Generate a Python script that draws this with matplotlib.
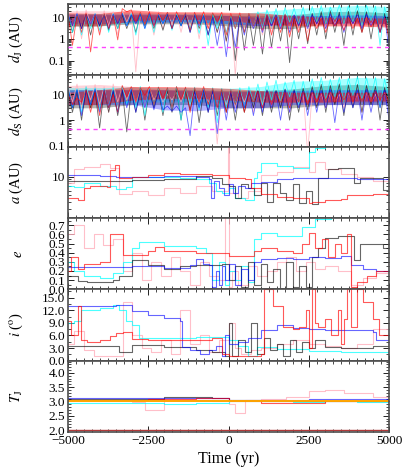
import numpy as np
import matplotlib.pyplot as plt
from matplotlib.ticker import MultipleLocator, FixedLocator, FormatStrFormatter, LogLocator, NullFormatter

plt.rcParams['font.family'] = ['Liberation Serif', 'DejaVu Serif']
plt.rcParams['mathtext.fontset'] = 'stix'

# ---- distances to Jupiter (AU), sampled evenly over -5000..5000 yr ----
dj_red = [14, 0.5, 12, 2, 16, 0.25, 13, 1.5, 15, 3, 12, 0.9,
          25, 18, 22, 6,
          17, 5, 18, 4, 16, 7, 17, 3, 18, 6, 16, 2.5, 17, 5, 18, 3, 16, 6, 17, 1.5,
          15, 3, 16, 2, 15, 4, 14, 2.5,
          12, 1.5, 10, 2, 12, 1.2, 9, 2, 11, 0.8,
          10, 3, 9, 2, 10, 4, 8, 2.5, 10, 3, 9, 2, 10, 3.5, 8, 2, 9, 1]
dj_pink = [18, 3, 20, 1, 22, 5, 15, 2, 20, 4, 18, 1.5,
           20, 6, 18, 0.03,
           16, 4, 14, 1.5, 18, 3, 15, 5, 17, 2, 16, 4, 15, 1, 16, 3, 14, 2, 15, 0.7,
           14, 0.02, 15, 2, 12, 3, 14, 1.5,
           13, 2, 12, 3, 14, 1.5, 12, 2.5, 13, 2,
           12, 4, 11, 3, 13, 5, 12, 2.5, 11, 4, 12, 3, 10, 4.5, 12, 3, 10, 2]
dj_cyan = [15, 2, 14, 1.5, 13, 3, 15, 2.5, 14, 2, 15, 3,
           16, 4, 15, 1.5, 16, 3, 15, 2, 14, 5, 16, 2.5, 15, 4, 16, 3, 15, 1.8, 14, 0.5, 15, 3, 14, 2,
           12, 3, 13, 2, 14, 4, 18, 3,
           22, 5, 25, 4, 28, 6, 26, 5, 30, 4,
           32, 6, 35, 5, 30, 8, 38, 5, 34, 6, 40, 4, 36, 7, 33, 0.5, 30, 3]
dj_black = [13, 2, 12, 3, 14, 1.5, 12, 4, 13, 2.5, 12, 3,
            13, 3, 12, 2, 14, 4, 13, 3, 12, 2.5, 14, 3, 13, 4, 12, 2, 13, 3, 12, 1.5, 13, 2, 12, 0.8,
            11, 0.1, 12, 0.3, 10, 0.5, 12, 0.2,
            13, 0.4, 12, 0.8, 14, 0.08, 12, 1, 13, 0.6,
            15, 1.5, 18, 1, 20, 2, 17, 0.5, 19, 1.5, 20, 2, 18, 1, 17, 2, 15, 1]
dj_blue = [14, 4, 15, 3, 13, 5, 14, 4, 12, 3, 14, 5,
           15, 4, 13, 5, 14, 3, 15, 4, 13, 5, 14, 3, 12, 4, 14, 2, 13, 4, 12, 1.5, 10, 0.5, 8, 0.15,
           9, 0.4, 10, 1.5, 12, 3, 11, 2,
           12, 4, 13, 3, 12, 2, 13, 4, 12, 3,
           13, 5, 12, 3, 14, 4, 13, 2, 12, 5, 13, 3, 14, 4, 12, 2, 11, 0.3]

# envelope of the dense oscillation, every 1000 yr from -5000 to 5000
dj_red_top = [16, 15, 22, 18, 18, 17, 16, 12, 10, 10, 9]
dj_red_bot = [4, 4, 7, 8, 8, 7, 5, 4, 4, 4, 3.5]
dj_pink_top = [20, 20, 18, 16, 16, 15, 14, 13, 12, 12, 11]
dj_pink_bot = [5, 5, 6, 6, 5, 5, 4, 5, 5, 5, 4]
dj_cyan_top = [15, 15, 16, 15, 15, 14, 18, 25, 30, 35, 32]
dj_cyan_bot = [4, 4, 6, 6, 6, 5, 5, 8, 8, 8, 7]
dj_black_top = [13, 13, 13, 13, 13, 12, 12, 13, 18, 19, 16]
dj_black_bot = [4, 4, 5, 5, 5, 4, 3, 3, 5, 6, 5]
dj_blue_top = [14, 14, 14, 14, 13, 12, 10, 12, 12, 13, 12]
dj_blue_bot = [5, 5, 6, 6, 6, 5, 4, 5, 5, 5, 5]

# ---- distances to Saturn (AU) ----
ds_red = [10, 4, 7, 5, 15, 2, 12, 1.5, 14, 3, 10, 2,
          22, 8, 20, 5, 18, 9, 20, 4, 19, 7, 18, 3, 20, 6, 19, 2, 18, 5, 20, 4, 17, 3, 16, 2,
          15, 4, 14, 2, 12, 5, 13, 3,
          12, 4, 11, 5, 12, 3, 11, 5, 12, 4,
          12, 5, 11, 6, 12, 5, 13, 6, 12, 5, 11, 6, 12, 5, 13, 6, 12, 5]
ds_pink = [22, 5, 25, 3, 20, 6, 24, 4, 20, 2, 25, 5,
           20, 6, 18, 5, 15, 3, 18, 6, 12, 5, 10, 6, 12, 5, 15, 4, 10, 5, 12, 5, 10, 0.12, 12, 4,
           14, 3, 12, 5, 13, 2, 12, 4,
           13, 3, 12, 5, 14, 2, 12, 4, 13, 0.05,
           12, 4, 11, 3, 12, 5, 10, 3, 12, 4, 11, 2, 12, 5, 10, 3, 12, 4]
ds_cyan = [18, 3, 16, 2, 20, 4, 18, 2.5, 17, 3, 19, 2,
           20, 4, 18, 3, 20, 1.5, 17, 4, 19, 2, 18, 3, 20, 1, 18, 4, 19, 2.5, 17, 3, 18, 0.8, 17, 3,
           16, 4, 18, 3, 20, 5, 25, 4,
           30, 6, 35, 5, 30, 8, 35, 4, 32, 6,
           40, 7, 45, 6, 38, 8, 45, 5, 42, 9, 48, 6, 44, 8, 45, 3, 40, 6]
ds_black = [15, 2, 14, 1, 16, 3, 13, 0.5, 15, 2, 14, 1.5,
            15, 0.35, 14, 2, 16, 1, 15, 3, 14, 1.5, 15, 2, 16, 1, 14, 2.5, 15, 0.8, 14, 2, 15, 1.5, 14, 2,
            13, 1, 14, 2, 13, 3, 14, 1.5,
            15, 2, 14, 3, 16, 1, 15, 2, 17, 2.5,
            20, 3, 24, 2, 22, 4, 25, 1.5, 23, 3, 24, 2, 22, 4, 20, 1, 18, 3]
ds_blue = [16, 3, 15, 1.5, 14, 4, 16, 2, 15, 3, 14, 2,
           15, 3, 16, 2, 14, 3, 15, 2.5, 12, 2.5, 3.5, 2.2, 3.5, 2, 3, 0.25, 13, 3, 15, 2, 14, 0.3, 12, 1,
           13, 2, 12, 3, 14, 1.5, 13, 2,
           14, 3, 13, 1, 15, 2, 14, 3, 13, 1.5,
           15, 2, 14, 3, 16, 0.8, 15, 2, 14, 3, 15, 1, 16, 2, 14, 3, 15, 1]

ds_red_top = [12, 15, 20, 20, 19, 17, 14, 12, 12, 12, 12]
ds_red_bot = [4, 4, 6, 7, 7, 6, 5, 5, 5, 5.5, 5.5]
ds_pink_top = [22, 24, 20, 15, 12, 12, 13, 13, 12, 12, 12]
ds_pink_bot = [6, 6, 6, 6, 5, 5, 5, 5, 5, 5, 5]
ds_cyan_top = [18, 18, 19, 18, 18, 17, 20, 32, 35, 45, 42]
ds_cyan_bot = [4, 4, 5, 5, 5, 5, 5, 8, 9, 9, 8]
ds_black_top = [15, 15, 15, 15, 15, 14, 14, 16, 22, 24, 20]
ds_black_bot = [3, 3, 4, 4, 4, 3, 3, 3, 4, 4, 4]
ds_blue_top = [15, 15, 15, 15, 14, 13, 13, 14, 15, 15, 15]
ds_blue_bot = [4, 4, 4, 2.5, 2.3, 3, 3, 4, 4, 4, 4]

hill_j = 0.40
hill_s = 0.44

# ---- semimajor axis (AU), step series ----
a_blue_t = [-5000, -4500, -4000, -3500, -3000, -2500, -2000, -1500, -1000, -600, -550, -450, -300, -150, 0, 150, 300, 500, 700, 1000, 1500, 2000, 3000, 4000, 5000]
a_blue = [10.5, 10.4, 10.2, 10.0, 9.8, 10.0, 10.2, 10.1, 9.7, 9.0, 4.5, 8.5, 6.5, 5.0, 7.5, 5.5, 7.0, 6.5, 8.0, 8.2, 9.0, 9.6, 9.4, 9.3, 9.3]
a_black_t = [-5000, -3000, -2000, -1000, -500, -200, 0, 200, 400, 600, 800, 1000, 1200, 1400, 1600, 1800, 2000, 2200, 2400, 2600, 2800, 3100, 3400, 3900, 4100, 4800, 5000]
a_black = [8.6, 8.8, 9.2, 10.2, 9.5, 7.5, 7.0, 4.5, 7.5, 6.5, 5.0, 7.8, 4.0, 8.0, 5.5, 4.2, 7.5, 3.8, 6.0, 3.6, 9.5, 13.0, 13.8, 8.0, 9.5, 6.2, 6.2]
a_cyan_t = [-5000, -4800, -4500, -4000, -3500, -3200, -3000, -2500, -1500, -1000, -600, -400, -200, 0, 200, 500, 800, 900, 1000, 1500, 2000, 2500, 2700, 3000, 3200, 5000]
a_cyan = [7.2, 6.8, 8.0, 7.0, 6.4, 6.8, 10.0, 9.8, 9.5, 9.0, 8.0, 6.0, 5.5, 6.5, 4.5, 4.2, 9.5, 12.0, 16.5, 14.5, 13.8, 25.0, 28.0, 32.0, 40.0, 40.0]
a_red_t = [-5000, -4700, -4500, -4300, -3800, -3700, -3550, -3400, -3000, -2500, -2000, -1500, -1000, -500, 0, 500, 700, 1000, 1500, 2000, 2500, 2600, 3000, 3500, 3700, 4000, 4500, 5000]
a_red = [4.5, 4.2, 6.5, 7.0, 6.8, 12.5, 15.0, 9.5, 9.8, 10.5, 11.5, 10.8, 11.0, 10.5, 9.5, 9.0, 6.5, 5.2, 4.8, 4.5, 3.8, 4.0, 4.2, 4.4, 5.0, 5.0, 5.2, 5.2]
a_pink_t = [-5000, -4800, -4500, -4000, -3700, -3400, -3000, -2500, -2000, -1500, -1000, -500, -20, 20, 300, 600, 1000, 1500, 2000, 2500, 2700, 3000, 3500, 4000, 4500, 5000]
a_pink = [8.0, 13.0, 14.0, 16.0, 13.5, 5.2, 6.0, 5.0, 6.5, 5.5, 7.0, 6.0, 40.0, 5.5, 4.5, 6.0, 10.5, 12.0, 14.0, 12.0, 17.0, 13.0, 11.0, 10.0, 8.5, 8.5]

# ---- eccentricity ----
e_blue_t = [-5000, -4000, -3000, -2000, -1200, -1000, -800, -600, -500, -400, -300, -200, -100, 0, 200, 400, 600, 800, 1000, 1500, 2000, 2500, 3000, 3500, 3800, 4200, 4600, 5000]
e_blue = [0.24, 0.24, 0.25, 0.23, 0.26, 0.33, 0.28, 0.26, 0.02, 0.2, 0.05, 0.25, 0.1, 0.28, 0.05, 0.22, 0.1, 0.3, 0.33, 0.34, 0.33, 0.35, 0.34, 0.36, 0.26, 0.22, 0.2, 0.19]
e_black_t = [-5000, -4700, -4400, -4000, -3600, -3400, -3000, -2500, -2000, -1500, -1000, -500, -200, 0, 200, 400, 600, 800, 1000, 1200, 1400, 1600, 1800, 2000, 2200, 2400, 2600, 2800, 3000, 3400, 3900, 4100, 4800, 5000]
e_black = [0.15, 0.09, 0.08, 0.08, 0.1, 0.14, 0.32, 0.26, 0.22, 0.25, 0.26, 0.27, 0.28, 0.1, 0.25, 0.02, 0.3, 0.05, 0.28, 0.08, 0.22, 0.0, 0.3, 0.03, 0.25, 0.02, 0.35, 0.45, 0.56, 0.58, 0.32, 0.5, 0.45, 0.45]
e_cyan_t = [-5000, -4800, -4500, -4000, -3600, -3300, -3000, -2800, -2000, -1000, -700, -500, -300, -100, 0, 200, 400, 600, 800, 1000, 1500, 2300, 2700, 3200]
e_cyan = [0.3, 0.2, 0.15, 0.12, 0.18, 0.3, 0.45, 0.52, 0.47, 0.45, 0.4, 0.1, 0.3, 0.05, 0.2, 0.1, 0.25, 0.08, 0.55, 0.62, 0.58, 0.68, 0.77, 0.85]
e_red_t = [-5000, -4900, -4700, -4500, -4000, -3700, -3300, -2800, -2500, -2300, -2000, -1000, 0, 500, 800, 1000, 1500, 2000, 2300, 2500, 2700, 2900, 3100, 3300, 3500, 3700, 3800, 4000, 4300, 4600, 5000]
e_red = [0.2, 0.35, 0.22, 0.28, 0.3, 0.6, 0.38, 0.38, 0.42, 0.46, 0.42, 0.4, 0.36, 0.36, 0.42, 0.45, 0.42, 0.4, 0.5, 0.62, 0.45, 0.55, 0.35, 0.5, 0.4, 0.6, 0.03, 0.08, 0.15, 0.2, 0.3]
e_pink_t = [-5000, -4800, -4500, -4200, -3900, -3600, -3300, -3000, -2700, -2400, -2100, -1800, -1500, -1200, -900, -600, -300, -100, 0, 100, 300, 600, 900, 1200, 1500, 1800, 2100, 2400, 2700, 3000, 3400, 3800, 4200, 4600, 5000]
e_pink = [0.6, 0.7, 0.45, 0.6, 0.48, 0.55, 0.2, 0.4, 0.1, 0.3, 0.15, 0.35, 0.2, 0.05, 0.3, 0.15, 0.1, 0.85, 0.02, 0.2, 0.05, 0.25, 0.15, 0.2, 0.3, 0.35, 0.2, 0.3, 0.22, 0.25, 0.2, 0.05, 0.12, 0.18, 0.22]

# ---- inclination (deg) ----
i_blue_t = [-5000, -4500, -3500, -3000, -2500, -2000, -1500, -1450, -1200, -900, -600, -400, -200, -100, 0, 300, 600, 1000, 1500, 2000, 2500, 3000, 3500, 4000, 4500, 4600, 5000]
i_blue = [13.0, 12.9, 13.3, 11.8, 10.8, 10.2, 9.5, 3.2, 2.5, 1.5, 2.5, 3.5, 1.0, 6.0, 4.0, 4.5, 5.5, 7.2, 8.5, 7.8, 7.5, 7.4, 7.2, 7.3, 6.8, 5.0, 6.5]
i_cyan_t = [-5000, -4800, -4600, -4000, -3600, -3400, -3200, -3000, -2800, -1000, -500, 0, 300, 600, 800, 900, 1500, 2500, 3500, 5000]
i_cyan = [9.0, 9.5, 12.0, 12.6, 13.2, 12.0, 9.5, 8.5, 5.5, 5.6, 5.6, 5.0, 3.5, 1.2, 1.0, 3.2, 2.8, 2.4, 2.0, 1.7]
i_red_t = [-5000, -4900, -4700, -4600, -4400, -4000, -3700, -3500, -3300, -3000, -2500, -1500, -1000, -500, -200, 0, 500, 1000, 1100, 1400, 1700, 2000, 2200, 2400, 2500, 2600, 2700, 2800, 3000, 3200, 3400, 3500, 3600, 3700, 3800, 4000, 4200, 4500, 4700, 5000]
i_red = [9.5, 6.0, 13.0, 5.0, 4.5, 5.0, 5.8, 6.5, 6.8, 5.2, 5.0, 4.8, 5.0, 5.5, 1.5, 1.0, 1.2, 1.5, 17.0, 13.0, 8.0, 7.5, 8.0, 12.0, 3.0, 17.0, 9.0, 8.0, 10.0, 6.0, 12.0, 4.0, 10.0, 17.0, 8.0, 17.0, 14.0, 10.0, 6.0, 7.0]
i_black_t = [-5000, -3500, -3400, -3000, -2000, -1000, -500, -100, 0, 100, 300, 500, 700, 900, 1100, 1300, 1500, 1700, 1900, 2100, 2300, 2500, 2700, 3000, 3500, 4000, 4500, 5000]
i_black = [3.5, 3.5, 2.0, 3.8, 3.2, 2.5, 2.0, 1.2, 9.0, 1.0, 5.0, 2.0, 9.0, 1.5, 5.5, 2.5, 4.0, 1.0, 5.0, 2.0, 4.5, 3.0, 5.0, 3.2, 3.0, 3.0, 3.5, 4.5]
i_pink_t = [-5000, -4800, -4500, -4200, -3800, -3500, -3300, -3000, -2700, -2400, -2100, -1800, -1500, -1200, -900, -600, -300, 0, 200, 400, 700, 1000, 1500, 2000, 2500, 3000, 3500, 4000, 4500, 5000]
i_pink = [4.0, 7.0, 2.5, 1.0, 1.0, 1.2, 14.0, 6.0, 3.0, 2.0, 5.0, 1.5, 12.0, 4.0, 6.0, 2.0, 5.0, 9.0, 3.0, 1.5, 2.5, 3.0, 4.0, 5.0, 4.0, 3.5, 3.0, 4.0, 7.5, 9.0]

# ---- Tisserand parameter ----
tj_blue_t = [-5000, -3000, -1000, 0, 1000, 2500, 4000, 5000]
tj_blue = [3.12, 3.11, 3.12, 3.05, 3.06, 3.07, 3.10, 3.13]
tj_black_t = [-5000, -2000, -1000, -500, 0, 1000, 2500, 4000, 5000]
tj_black = [3.10, 3.15, 3.17, 3.12, 3.05, 3.02, 3.03, 3.00, 2.98]
tj_red_t = [-5000, -2500, -1000, 0, 1000, 2000, 2500, 3000, 4000, 5000]
tj_red = [3.05, 3.10, 3.12, 3.02, 2.95, 2.93, 2.94, 3.00, 3.02, 3.01]
tj_cyan_t = [-5000, -3000, -2000, -1000, 0, 1000, 2000, 3000, 4000, 5000]
tj_cyan = [2.95, 2.93, 2.92, 2.95, 3.02, 3.00, 2.99, 3.00, 2.98, 2.97]
tj_pink_t = [-5000, -3000, -2600, -2000, -500, 0, 200, 500, 1000, 1800, 2500, 3000, 3600, 4500, 5000]
tj_pink = [3.00, 2.98, 2.70, 3.05, 3.02, 2.90, 2.60, 3.05, 3.08, 3.15, 3.35, 3.40, 3.30, 3.15, 3.10]
tj_jfc = 3.0
tj_low = 2.0

cols = {'pink': '#ffb0bc', 'black': 'black', 'cyan': 'cyan', 'blue': 'blue', 'red': 'red'}
alphas = {'pink': 0.8, 'black': 0.6, 'cyan': 0.7, 'blue': 0.6, 'red': 0.65}
fill_alphas = {'pink': 0.55, 'black': 0.3, 'cyan': 0.35, 'blue': 0.3, 'red': 0.45}

fig, axes = plt.subplots(6, 1, sharex=True, figsize=(4.07, 4.75), dpi=100)
fig.subplots_adjust(left=0.167, right=0.956, top=0.992, bottom=0.0905, hspace=0)
ax_dj, ax_ds, ax_a, ax_e, ax_i, ax_tj = axes


def dense(ax, series):
    for name, vals, top, bot in series:
        tb = np.linspace(-5000, 5000, len(top))
        ax.fill_between(tb, bot, top, color=cols[name], alpha=fill_alphas[name], lw=0)
        t = np.linspace(-5000, 5000, len(vals))
        ax.plot(t, vals, color=cols[name], alpha=alphas[name], lw=0.6)


def steps(ax, series):
    for name, t, vals in series:
        ax.step(t, vals, where='post', color=cols[name], alpha=alphas[name], lw=0.8)


dense(ax_dj, [('pink', dj_pink, dj_pink_top, dj_pink_bot),
              ('black', dj_black, dj_black_top, dj_black_bot),
              ('cyan', dj_cyan, dj_cyan_top, dj_cyan_bot),
              ('blue', dj_blue, dj_blue_top, dj_blue_bot),
              ('red', dj_red, dj_red_top, dj_red_bot)])
dense(ax_ds, [('pink', ds_pink, ds_pink_top, ds_pink_bot),
              ('black', ds_black, ds_black_top, ds_black_bot),
              ('cyan', ds_cyan, ds_cyan_top, ds_cyan_bot),
              ('blue', ds_blue, ds_blue_top, ds_blue_bot),
              ('red', ds_red, ds_red_top, ds_red_bot)])
ax_dj.axhline(hill_j, color='#ff44ff', lw=1.0, ls=(0, (3, 3)), zorder=5)
ax_ds.axhline(hill_s, color='#ff44ff', lw=1.0, ls=(0, (3, 3)), zorder=5)

steps(ax_a, [('pink', a_pink_t, a_pink), ('cyan', a_cyan_t, a_cyan), ('black', a_black_t, a_black),
             ('blue', a_blue_t, a_blue), ('red', a_red_t, a_red)])
steps(ax_e, [('pink', e_pink_t, e_pink), ('cyan', e_cyan_t, e_cyan), ('black', e_black_t, e_black),
             ('blue', e_blue_t, e_blue), ('red', e_red_t, e_red)])
steps(ax_i, [('pink', i_pink_t, i_pink), ('cyan', i_cyan_t, i_cyan), ('black', i_black_t, i_black),
             ('blue', i_blue_t, i_blue), ('red', i_red_t, i_red)])
steps(ax_tj, [('pink', tj_pink_t, tj_pink), ('cyan', tj_cyan_t, tj_cyan), ('black', tj_black_t, tj_black),
              ('blue', tj_blue_t, tj_blue), ('red', tj_red_t, tj_red)])
ax_tj.axhline(tj_jfc, color='orange', lw=1.4)
ax_tj.axhline(tj_low, color='#b03a3a', lw=1.0)

# axes scales and ticks
ax_dj.set_yscale('log')
ax_dj.set_ylim(0.021, 42)
ax_ds.set_yscale('log')
ax_ds.set_ylim(0.095, 55)
for ax in (ax_dj, ax_ds):
    ax.yaxis.set_major_locator(FixedLocator([0.1, 1, 10]))
    ax.yaxis.set_major_formatter(FormatStrFormatter('%g'))
    ax.yaxis.set_minor_locator(LogLocator(subs=np.arange(2, 10)))
    ax.yaxis.set_minor_formatter(NullFormatter())

ax_a.set_yscale('log')
ax_a.set_ylim(2.2, 30)
ax_a.yaxis.set_major_locator(FixedLocator([10]))
ax_a.yaxis.set_major_formatter(FormatStrFormatter('%g'))
ax_a.yaxis.set_minor_locator(LogLocator(subs=np.arange(2, 10)))
ax_a.yaxis.set_minor_formatter(NullFormatter())

ax_e.set_ylim(0, 0.78)
ax_e.yaxis.set_major_locator(MultipleLocator(0.1))
ax_e.yaxis.set_major_formatter(FormatStrFormatter('%.1f'))
ax_e.yaxis.set_minor_locator(MultipleLocator(0.05))

ax_i.set_ylim(0, 17)
ax_i.yaxis.set_major_locator(MultipleLocator(3))
ax_i.yaxis.set_major_formatter(FormatStrFormatter('%.1f'))
ax_i.yaxis.set_minor_locator(MultipleLocator(1.5))

ax_tj.set_ylim(1.93, 4.43)
ax_tj.yaxis.set_major_locator(MultipleLocator(0.5))
ax_tj.yaxis.set_major_formatter(FormatStrFormatter('%.1f'))
ax_tj.yaxis.set_minor_locator(MultipleLocator(0.1))

ax_tj.set_xlim(-5000, 5000)
ax_tj.xaxis.set_major_locator(MultipleLocator(2500))
ax_tj.xaxis.set_minor_locator(MultipleLocator(250))

labels = [r'$d_\mathrm{J}$ (AU)', r'$d_\mathrm{S}$ (AU)', r'$a$ (AU)', r'$e$', r'$i$ ($^\mathrm{o}$)', r'$T_\mathrm{J}$']
for ax, lab in zip(axes, labels):
    ax.set_ylabel(lab, fontsize=10.5)
    ax.yaxis.set_label_coords(-0.135, 0.5)
    ax.tick_params(which='both', direction='in', top=True, right=True, labelsize=9.5, pad=2)
    ax.tick_params(which='major', length=4, width=0.6)
    ax.tick_params(which='minor', length=2, width=0.5)
    for sp in ax.spines.values():
        sp.set_color('0.3')
        sp.set_linewidth(1.2)

ax_tj.set_xlabel('Time (yr)', fontsize=11.5, labelpad=3)

fig.savefig('out.png', dpi=100)
